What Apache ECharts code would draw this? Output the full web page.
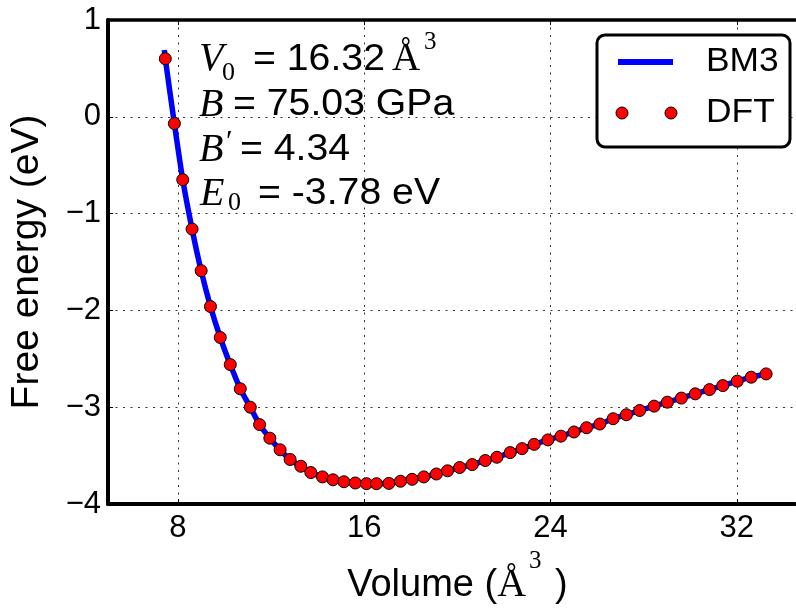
<!DOCTYPE html>
<html>
<head>
<meta charset="utf-8">
<script src="https://cdn.jsdelivr.net/npm/echarts@6/dist/echarts.min.js"></script>
<style>
  html, body { margin: 0; padding: 0; background: #ffffff; }
  #chart { width: 796px; height: 611px; }
</style>
</head>
<body>
<div id="chart"></div>
<script>
// DFT free energy (eV) against cell volume (Å^3)
const volume = [7.46, 7.85, 8.21, 8.61, 9.00, 9.40, 9.82, 10.25, 10.68, 11.11,
  11.51, 11.95, 12.39, 12.82, 13.28, 13.71, 14.21, 14.66, 15.13, 15.62,
  16.10, 16.53, 17.06, 17.56, 18.06, 18.56, 19.10, 19.58, 20.10, 20.64,
  21.20, 21.70, 22.27, 22.78, 23.30, 23.89, 24.45, 25.01, 25.55, 26.12,
  26.69, 27.26, 27.83, 28.45, 29.02, 29.62, 30.22, 30.83, 31.40, 32.02,
  32.62, 33.26];
const energyDFT = [0.60, -0.07, -0.65, -1.16, -1.59, -1.96, -2.28, -2.56, -2.81, -3.00,
  -3.18, -3.32, -3.44, -3.54, -3.61, -3.675, -3.72, -3.75, -3.77, -3.783,
  -3.79, -3.79, -3.787, -3.765, -3.745, -3.72, -3.69, -3.657, -3.623, -3.593,
  -3.551, -3.517, -3.469, -3.428, -3.384, -3.338, -3.299, -3.256, -3.212, -3.174,
  -3.119, -3.078, -3.034, -2.989, -2.948, -2.906, -2.862, -2.818, -2.777, -2.731,
  -2.690, -2.656];

// Birch-Murnaghan (3rd order) fit, running a little past the DFT points
const fitStart = [7.42, 0.69];
const fitEnd = [33.32, -2.648];

// Axis ticks
const xTickValues = [8, 16, 24, 32];
const yTickValues = [-4, -3, -2, -1, 0, 1];

// Fitted parameters shown in the upper left
const fitV0 = '16.32';
const fitB = '75.03';
const fitBp = '4.34';
const fitE0 = '-3.78';

const SANS = '"Liberation Sans", Arial, Helvetica, sans-serif';
const SERIF = '"Liberation Serif", "Times New Roman", serif';

const dftPoints = volume.map((v, i) => [v, energyDFT[i]]);
const fitPoints = [fitStart].concat(dftPoints, [fitEnd]);

const minusFmt = v => (v < 0 ? '\u2212' + Math.abs(v) : String(v));

const chart = echarts.init(document.getElementById('chart'), null, { renderer: 'canvas' });

const gridLine = { show: true, lineStyle: { color: '#333', width: 1, type: [2, 5.5] } };

// plain text piece of the parameter block
function label(x, y, text, font, sx) {
  return {
    type: 'text', z: 20, x: x, y: y, scaleX: sx || 1,
    style: { text: text, font: font, fill: '#000', verticalAlign: 'middle' }
  };
}
const MATH = 'italic 40px ' + SERIF;
const SUB = '26px ' + SERIF;
const BODY = '37px ' + SANS;
const WIDE = 1.06;

const option = {
  animation: false,
  backgroundColor: '#ffffff',
  grid: { left: 106, right: 1, top: 20, bottom: 107, containLabel: false },
  xAxis: [
    {
      type: 'value', position: 'bottom', min: 5, max: 34.5,
      axisLine: { show: true, onZero: false, lineStyle: { color: '#000', width: 4 } },
      axisTick: { show: true, inside: true, length: 5, customValues: xTickValues, lineStyle: { color: '#000', width: 1 } },
      axisLabel: { show: true, customValues: xTickValues, margin: 9, fontFamily: SANS, fontSize: 31, color: '#000' },
      splitLine: gridLine,
      name: '{a|Volume (}{m|\u00C5}{s|3}{t| )}',
      nameLocation: 'middle', nameGap: 44,
      nameTextStyle: {
        rich: {
          a: { fontFamily: SANS, fontSize: 38, color: '#000', padding: [0, 0, 0, 12] },
          t: { fontFamily: SANS, fontSize: 38, color: '#000' },
          m: { fontFamily: SERIF, fontSize: 40, color: '#000' },
          s: { fontFamily: SERIF, fontSize: 25, color: '#000', padding: [0, 3, 48, 3] }
        }
      }
    },
    {
      type: 'value', position: 'top', min: 5, max: 34.5,
      axisLine: { show: true, onZero: false, lineStyle: { color: '#000', width: 3.5 } },
      axisTick: { show: true, inside: true, length: 5, customValues: xTickValues, lineStyle: { color: '#000', width: 1 } },
      axisLabel: { show: false },
      splitLine: { show: false }
    }
  ],
  yAxis: {
    type: 'value', min: -4, max: 1, interval: 1,
    axisLine: { show: true, onZero: false, lineStyle: { color: '#000', width: 4 } },
    axisTick: { show: true, inside: true, length: 5, lineStyle: { color: '#000', width: 1 } },
    axisLabel: {
      margin: 7, fontFamily: SANS, fontSize: 31, color: '#000',
      customValues: yTickValues, formatter: minusFmt
    },
    splitLine: gridLine,
    name: 'Free energy (eV)',
    nameLocation: 'middle', nameGap: 61, nameRotate: 90,
    nameTextStyle: { fontFamily: SANS, fontSize: 39, color: '#000' }
  },
  series: [
    {
      name: 'BM3', type: 'line', data: fitPoints, xAxisIndex: 0,
      showSymbol: false, smooth: 0.25, z: 3,
      lineStyle: { color: '#0000ff', width: 5.5 }
    },
    {
      name: 'DFT', type: 'scatter', data: dftPoints, xAxisIndex: 0,
      symbol: 'circle', symbolSize: 12, z: 4,
      itemStyle: { color: '#ff0000', borderColor: '#000', borderWidth: 1, opacity: 1 }
    }
  ],
  graphic: [
    // fitted parameters
    label(199, 59, 'V', MATH),
    label(222, 73, '0', SUB),
    label(253, 60, '= ' + fitV0, BODY, WIDE),
    label(392, 60, '\u00C5', '39px ' + SERIF),
    label(424, 42, '3', '25px ' + SERIF),

    label(199, 105, 'B', MATH),
    label(233, 105, '= ' + fitB + ' GPa', BODY, WIDE),

    label(199, 150, 'B', MATH),
    label(226, 142, '\u2032', '30px ' + SERIF),
    label(240, 150, '= ' + fitBp, BODY, WIDE),

    label(200, 194, 'E', MATH),
    label(228, 203, '0', SUB),
    label(258, 194, '= ' + fitE0 + ' eV', BODY, WIDE),

    // legend box
    { type: 'rect', z: 30, shape: { x: 597, y: 35, width: 193, height: 112, r: 8 }, style: { fill: '#fff', stroke: '#000', lineWidth: 3 } },
    { type: 'line', z: 31, shape: { x1: 618, y1: 62, x2: 673, y2: 62 }, style: { stroke: '#0000ff', lineWidth: 6 } },
    { type: 'circle', z: 31, shape: { cx: 622, cy: 113, r: 6 }, style: { fill: '#ff0000', stroke: '#000', lineWidth: 1 } },
    { type: 'circle', z: 31, shape: { cx: 671, cy: 113, r: 6 }, style: { fill: '#ff0000', stroke: '#000', lineWidth: 1 } },
    { type: 'text', z: 31, x: 706, y: 62, scaleX: 1.04, style: { text: 'BM3', font: '34px ' + SANS, fill: '#000', verticalAlign: 'middle' } },
    { type: 'text', z: 31, x: 706, y: 113, scaleX: 1.04, style: { text: 'DFT', font: '34px ' + SANS, fill: '#000', verticalAlign: 'middle' } }
  ]
};

chart.setOption(option);
</script>
</body>
</html>
